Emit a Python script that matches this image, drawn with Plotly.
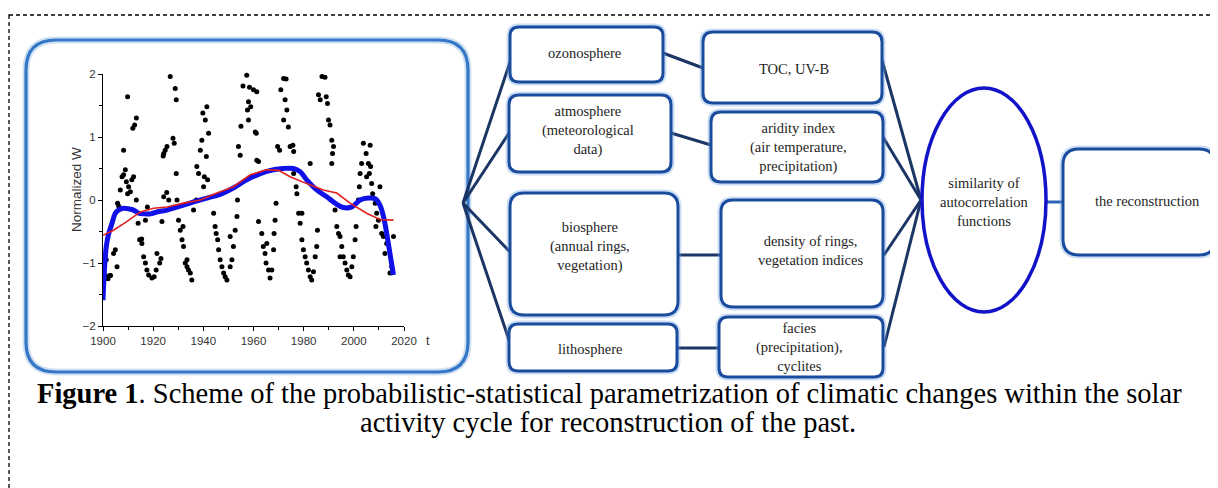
import plotly.graph_objects as go

# ---------------- data ----------------
scatter_year = [
    1901.0, 1902.0, 1903.0, 1901.3, 1904.2, 1904.9, 1905.6, 1905.8, 1906.3, 1906.9,
    1907.6, 1908.2, 1908.9, 1909.3, 1910.2, 1910.9, 1911.5, 1912.2, 1909.8, 1908.2,
    1909.8, 1911.9, 1912.6, 1913.3, 1913.3, 1914.0, 1914.6, 1915.5, 1916.2, 1916.9,
    1917.5, 1918.2, 1919.5, 1920.4, 1921.2, 1922.6, 1923.1, 1921.5, 1916.9, 1902.8,
    1923.5, 1924.2, 1924.2, 1924.8, 1925.5, 1926.2, 1926.8, 1927.9, 1928.4, 1928.8,
    1929.2, 1929.2, 1929.5, 1930.1, 1930.8, 1931.5, 1932.1, 1932.8, 1933.5, 1934.1,
    1934.8, 1935.4, 1933.5, 1931.9, 1936.1, 1937.2, 1937.4, 1938.1, 1938.8, 1939.4,
    1939.8, 1940.8, 1941.4, 1942.1, 1941.2, 1940.4, 1941.7, 1940.1, 1944.1, 1944.7,
    1945.1, 1945.7, 1946.1, 1946.7, 1947.4, 1948.1, 1948.7, 1949.4, 1950.7, 1951.4,
    1952.0, 1952.7, 1953.4, 1950.7, 1953.6, 1954.0, 1954.7, 1955.0, 1955.8, 1957.3,
    1958.4, 1958.0, 1958.9, 1957.6, 1960.0, 1961.3, 1960.7, 1961.1, 1961.3, 1962.0,
    1958.0, 1962.0, 1963.3, 1963.9, 1964.6, 1965.0, 1966.0, 1966.6, 1967.3, 1968.0,
    1968.2, 1968.6, 1969.0, 1965.3, 1969.6, 1970.4, 1970.9, 1972.0, 1973.0, 1972.6,
    1973.3, 1972.0, 1973.9, 1974.6, 1976.0, 1975.7, 1976.0, 1977.0, 1977.3, 1978.0,
    1978.6, 1979.3, 1979.9, 1980.6, 1981.2, 1981.9, 1982.6, 1983.2, 1983.9, 1984.6,
    1985.2, 1985.5, 1979.3, 1982.6, 1985.9, 1986.6, 1987.3, 1988.5, 1989.0, 1989.5,
    1989.9, 1990.5, 1991.2, 1991.9, 1991.5, 1991.2, 1992.5, 1993.2, 1993.9, 1994.5,
    1995.2, 1995.8, 1996.5, 1997.2, 1997.8, 1998.5, 1999.2, 1999.8, 2000.5, 2000.9,
    1994.5, 2001.8, 2002.2, 2002.5, 2003.1, 2003.8, 2004.9, 2005.8, 2006.5, 2006.7,
    2006.2, 2005.1, 2007.1, 2007.5, 2008.5, 2009.1, 2009.8, 2010.4, 2011.1, 2011.8,
    2012.4, 2013.1, 2014.4, 2015.1, 2015.8, 2008.8, 1917.7, 1915.4, 1924.0, 1925.4,
]
scatter_w = [
    -1.20, -1.25, -1.20, -0.95, -0.85, -0.79, -1.06, -0.05, -0.10, 0.16,
    0.37, 0.40, 0.48, 0.29, 0.21, 0.13, 0.32, 0.37, 0.10, 0.79,
    1.64, 1.14, 1.19, 1.30, 0.00, -0.37, -0.63, -0.69, -0.90, -1.00,
    -1.11, -1.19, -1.24, -1.22, -1.11, -1.00, -0.93, -0.85, -0.32, -1.20,
    -0.34, 0.05, 0.74, 0.79, 0.85, 0.00, 1.96, 0.98, 0.90, 1.77,
    1.59, 0.42, 0.00, -0.32, -0.48, -0.63, -0.74, -1.00, -1.06, -1.11,
    -1.16, -1.27, -0.95, -0.42, -0.16, 0.00, 0.53, 0.42, 0.79, 0.95,
    1.38, 1.27, 1.48, 1.06, 0.69, 0.37, 0.32, 0.21, -0.21, -0.42,
    -0.53, -0.63, -0.79, -0.95, -1.06, -1.16, -1.22, -1.27, -1.06, -0.95,
    -0.74, -0.48, -0.26, -0.58, 0.00, 0.85, 0.71, 1.17, 1.81, 1.98,
    1.79, 1.56, 1.48, 1.43, 1.75, 1.72, 1.08, 1.06, 0.63, 0.61,
    1.27, -0.34, -0.53, -0.74, -0.85, -1.00, -1.11, -1.24, -1.11, -0.79,
    -0.53, -0.32, -0.05, -0.69, 0.85, 0.79, 1.75, 1.93, 1.92, 1.59,
    1.43, 1.27, 1.16, 0.85, 0.77, 0.87, 0.42, 0.21, 0.10, -0.21,
    -0.37, -0.63, -0.79, -0.90, -1.00, -1.11, -1.22, -1.27, -1.14, -0.90,
    -0.74, -0.48, -0.21, 0.58, 1.67, 1.59, 1.96, 1.95, 1.64, 1.53,
    1.27, 1.19, 0.95, 0.85, 0.74, 0.58, -0.16, -0.42, -0.53, -0.58,
    -0.74, -0.90, -1.00, -1.11, -1.19, -1.22, -1.06, -0.90, -0.63, -0.42,
    -0.90, 0.00, 0.21, 0.42, 0.58, 0.90, 0.74, 0.58, 0.87, 0.53,
    0.42, 0.37, 0.26, 0.10, -0.05, -0.21, -0.32, 0.21, -0.53, -0.58,
    -0.85, -0.69, -1.16, -1.06, -0.58, -0.42, -0.11, -0.62, 0.70, 0.12,
]

smooth_year = [1900.0, 1900.5, 1901.3, 1902.3, 1903.6, 1904.9, 1906.2, 1908.2, 1910.2,
               1912.2, 1914.2, 1916.2, 1918.9, 1921.5, 1925.5, 1928.1, 1932.1, 1936.1,
               1941.4, 1946.7, 1952.0, 1957.3, 1962.7, 1968.0, 1972.0, 1975.9, 1978.6,
               1981.2, 1985.2, 1989.2, 1992.5, 1995.8, 1999.2, 2002.5, 2005.8, 2008.5,
               2010.4, 2011.8, 2013.1, 2014.4, 2015.8]
smooth_w = [-1.59, -1.16, -0.74, -0.53, -0.37, -0.21, -0.16, -0.13, -0.14,
            -0.16, -0.21, -0.22, -0.22, -0.19, -0.16, -0.13, -0.08, -0.03,
            0.03, 0.09, 0.19, 0.32, 0.42, 0.48, 0.50, 0.50, 0.45,
            0.32, 0.16, 0.05, -0.05, -0.12, -0.11, 0.00, 0.03, 0.02,
            -0.08, -0.26, -0.53, -0.85, -1.19]

trend_year = [1900.0, 1904.2, 1909.6, 1914.9, 1920.2, 1925.5, 1932.1, 1938.8, 1945.4,
              1952.0, 1958.7, 1965.3, 1970.0, 1974.6, 1981.2, 1987.8, 1993.2, 1998.5,
              2005.1, 2010.4, 2015.8]
trend_w = [-0.56, -0.48, -0.34, -0.19, -0.13, -0.11, -0.05, 0.00, 0.11,
           0.21, 0.40, 0.48, 0.47, 0.37, 0.26, 0.16, 0.11, -0.05,
           -0.21, -0.31, -0.32]

x_tick_vals = [1900, 1920, 1940, 1960, 1980, 2000, 2020]
y_tick_vals = [-2, -1, 0, 1, 2]

sphere_labels = ["ozonosphere", "atmosphere<br>(meteorological<br>data)",
                 "biosphere<br>(annual rings,<br>vegetation)", "lithosphere"]
proxy_labels = ["TOC, UV-B", "aridity index<br>(air temperature,<br>precipitation)",
                "density of rings,<br>vegetation indices",
                "facies<br>(precipitation),<br>cyclites"]
similarity_label = "similarity of<br>autocorrelation<br>functions"
result_label = "the reconstruction"
caption_line1 = ("<b>Figure 1</b>. Scheme of the probabilistic-statistical parametrization "
                 "of climatic changes within the solar")
caption_line2 = "activity cycle for reconstruction of the past."

# ---------------- layout geometry (page pixels) ----------------
PAGE_W, PAGE_H = 1218, 488
OFF = 8                       # default page body margin
W, H = PAGE_W - OFF, PAGE_H - OFF
SERIF = "Liberation Serif, Times New Roman, serif"
SANS = "Liberation Sans, Arial, sans-serif"

sphere_boxes = [(510, 27, 663, 82, 9), (509, 95, 671, 172, 10),
                (510, 193, 678, 315, 14), (509, 324, 677, 371, 9)]
sphere_text = [(584, 53), (588, 130), (590, 246), (590, 349)]
proxy_boxes = [(703, 32, 882, 103, 10), (711, 112, 883, 182, 10),
               (721, 200, 883, 307, 12), (719, 317, 883, 377, 9)]
proxy_text = [(794, 69), (798, 147), (810, 250), (799, 347)]

fan_origin = (463, 203)
fan_ends = [(510, 62), (509, 133), (510, 252), (510, 343)]
links = [((663, 53), (703, 68)), ((671, 133), (711, 145)),
         ((678, 255), (721, 255)), ((677, 348), (719, 348))]
merge_point = (921, 200)
merge_starts = [(882, 60), (883, 137), (884, 255), (884, 347)]


def rrect(x0, y0, x1, y1, r):
    return (f"M{x0+r},{y0} L{x1-r},{y0} Q{x1},{y0} {x1},{y0+r} L{x1},{y1-r} "
            f"Q{x1},{y1} {x1-r},{y1} L{x0+r},{y1} Q{x0},{y1} {x0},{y1-r} "
            f"L{x0},{y0+r} Q{x0},{y0} {x0+r},{y0} Z")


shapes = []
ref = dict(xref="x2", yref="y2")

# outer dashed frame
shapes.append(dict(type="rect", x0=9, y0=15, x1=1213, y1=500, line=dict(color="black", width=1.3, dash="4px,3px"), **ref))

# chart rounded box (glow + border)
shapes.append(dict(type="path", path=rrect(26, 40, 468, 372, 30), line=dict(color="rgba(120,165,220,0.35)", width=7), layer="below", **ref))
shapes.append(dict(type="path", path=rrect(26, 40, 468, 372, 30), line=dict(color="#3477c6", width=3.2), layer="below", **ref))

# connecting lines
line_col = "#1b3665"
for (xe, ye) in fan_ends:
    shapes.append(dict(type="line", x0=fan_origin[0], y0=fan_origin[1], x1=xe, y1=ye, line=dict(color=line_col, width=3), **ref))
for (a, b) in links:
    shapes.append(dict(type="line", x0=a[0], y0=a[1], x1=b[0], y1=b[1], line=dict(color=line_col, width=3), **ref))
for (xs, ys) in merge_starts:
    shapes.append(dict(type="line", x0=xs, y0=ys, x1=merge_point[0], y1=merge_point[1], line=dict(color=line_col, width=3), **ref))
shapes.append(dict(type="line", x0=1046, y0=202, x1=1064, y1=202, line=dict(color="#2a62b8", width=3), **ref))

# boxes
box_col = "#1a4c9e"
for (x0, y0, x1, y1, r) in sphere_boxes + proxy_boxes + [(1063, 149, 1215, 255, 16)]:
    shapes.append(dict(type="path", path=rrect(x0, y0, x1, y1, r), line=dict(color="rgba(110,160,225,0.35)", width=7), **ref))
    shapes.append(dict(type="path", path=rrect(x0, y0, x1, y1, r), fillcolor="white", line=dict(color=box_col, width=3), **ref))

# ellipse
shapes.append(dict(type="circle", x0=922, y0=88, x1=1046, y1=312, fillcolor="white", line=dict(color="#1212c8", width=3.5), **ref))

annotations = []
box_font = dict(family=SERIF, size=14.5, color="#1e1e1e")
for lab, (x, y) in zip(sphere_labels, sphere_text):
    annotations.append(dict(text=lab, x=x, y=y, showarrow=False, font=box_font, **ref))
for lab, (x, y) in zip(proxy_labels, proxy_text):
    annotations.append(dict(text=lab, x=x, y=y, showarrow=False, font=box_font, **ref))
annotations.append(dict(text=similarity_label, x=984, y=202, showarrow=False, font=box_font, **ref))
annotations.append(dict(text=result_label, x=1147, y=201, showarrow=False, font=box_font, **ref))
annotations.append(dict(text=caption_line1, x=609, y=393, showarrow=False, font=dict(family=SERIF, size=28.5, color="black"), **ref))
annotations.append(dict(text=caption_line2, x=608, y=422, showarrow=False, font=dict(family=SERIF, size=28.5, color="black"), **ref))
annotations.append(dict(text="Normalized W", x=76, y=190, textangle=-90, showarrow=False, font=dict(family=SANS, size=13.5, color="#333"), **ref))
annotations.append(dict(text="t", x=428, y=341, showarrow=False, font=dict(family=SANS, size=12.5, color="#333"), **ref))

fig = go.Figure()
fig.add_trace(go.Scatter(x=[OFF, PAGE_W], y=[OFF, PAGE_H], mode="markers", marker=dict(opacity=0), xaxis="x2", yaxis="y2", hoverinfo="skip", showlegend=False))

fig.add_trace(go.Scatter(x=scatter_year, y=scatter_w, mode="markers",
                         marker=dict(color="black", size=5), showlegend=False, cliponaxis=False))
fig.add_trace(go.Scatter(x=smooth_year, y=smooth_w, mode="lines", line=dict(color="#1010e8", width=5, shape="spline"), showlegend=False))
fig.add_trace(go.Scatter(x=trend_year, y=trend_w, mode="lines", line=dict(color="#e0201c", width=1.6), showlegend=False))


def dom_x(a, b):
    return [(a - OFF) / W, (b - OFF) / W]


def dom_y(top, bottom):
    return [1 - (bottom - OFF) / H, 1 - (top - OFF) / H]


fig.update_layout(
    template="none",
    width=W, height=H, autosize=False, margin=dict(l=0, r=0, t=0, b=0, pad=0),
    paper_bgcolor="white", plot_bgcolor="rgba(0,0,0,0)",
    xaxis=dict(domain=dom_x(103, 404), range=[1900, 2020], tickvals=x_tick_vals,
               showgrid=False, zeroline=False, showline=True, linecolor="black", linewidth=1,
               ticks="outside", ticklen=4, tickcolor="black", automargin=False,
               minor=dict(dtick=10, ticks="outside", ticklen=3, tickcolor="black", showgrid=False),
               tickfont=dict(family=SANS, size=11.5, color="#333"), anchor="y"),
    yaxis=dict(domain=dom_y(74, 326), range=[-2, 2], tickvals=y_tick_vals,
               showgrid=False, zeroline=False, showline=True, linecolor="black", linewidth=1,
               ticks="outside", ticklen=4, tickcolor="black", automargin=False,
               minor=dict(dtick=0.5, ticks="outside", ticklen=3, tickcolor="black", showgrid=False),
               tickfont=dict(family=SANS, size=11.5, color="#333"), anchor="x"),
    xaxis2=dict(domain=[0, 1], range=[OFF, PAGE_W], visible=False, anchor="y2", automargin=False),
    yaxis2=dict(domain=[0, 1], range=[PAGE_H, OFF], visible=False, anchor="x2", automargin=False),
    shapes=shapes, annotations=annotations,
)

fig.write_html("out.html")
